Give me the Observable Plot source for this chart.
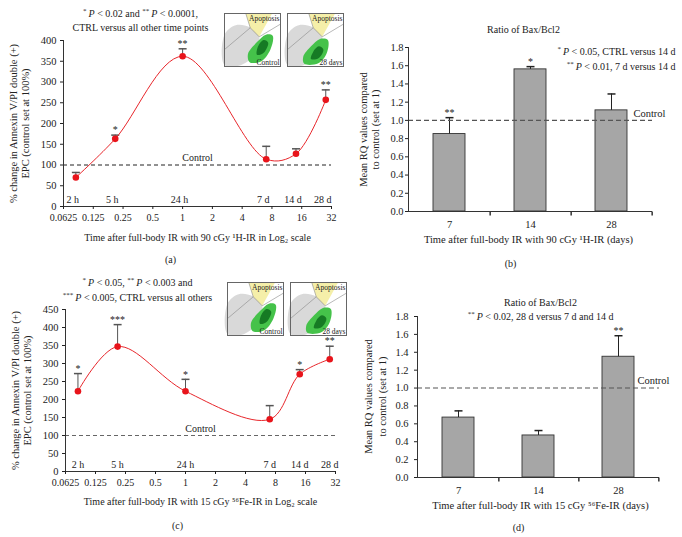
<!DOCTYPE html>
<html><head><meta charset="utf-8">
<script src="https://cdn.jsdelivr.net/npm/d3@7"></script>
<script src="https://cdn.jsdelivr.net/npm/@observablehq/plot@0.6"></script>
<style>
body{margin:0;background:#fff;}
#fig{position:relative;width:682px;height:537px;overflow:hidden;font-family:"Liberation Serif","DejaVu Serif",serif;}
#fig > svg, #fig > figure, #fig > div {position:absolute;margin:0;}
</style></head><body><div id="fig"></div>
<script>
// ---------- data ----------
const timeLabels = ["2 h", "5 h", "24 h", "7 d", "14 d", "28 d"];
const timeDays = [2 / 24, 5 / 24, 1, 7, 14, 28];
const logTicks = [0.0625, 0.125, 0.25, 0.5, 1, 2, 4, 8, 16, 32];
const logTickLabels = ["0.0625", "0.125", "0.25", "0.5", "1", "2", "4", "8", "16", "32"];
const yTicksA = [0, 50, 100, 150, 200, 250, 300, 350, 400];
const yTicksC = [0, 50, 100, 150, 200, 250, 300, 350, 400, 450];
const protonMean = [70, 163, 362, 114, 127, 257];
const protonErr = [12, 9, 18, 31, 12, 24];
const protonStars = ["", "*", "**", "", "", "**"];
const ironMean = [223, 347, 223, 145, 270, 312];
const ironErr = [49, 61, 33, 38, 13, 36];
const ironStars = ["*", "***", "*", "", "*", "**"];
const barDays = ["7", "14", "28"];
const barTicks = [0, 0.2, 0.4, 0.6, 0.8, 1.0, 1.2, 1.4, 1.6, 1.8];
const barTickLabels = ["0.0", "0.2", "0.4", "0.6", "0.8", "1.0", "1.2", "1.4", "1.6", "1.8"];
const protonRatio = [0.85, 1.56, 1.11];
const protonRatioErr = [0.18, 0.03, 0.18];
const protonRatioStars = ["**", "*", ""];
const ironRatio = [0.67, 0.47, 1.35];
const ironRatioErr = [0.075, 0.055, 0.235];
const ironRatioStars = ["", "", "**"];
const controlLevelPct = 100;
const controlLevelRQ = 1.0;

// inset (flow cytometry thumbnail) outlines, unit square
const gateCloud = [[0, 0.03], [0, 0.6], [0.2, 0.78], [0.45, 0.74], [0.62, 0.55], [0.55, 0.25], [0.3, 0.03]];
const gateYellow = [[0.38, 1], [0.85, 1], [0.62, 0.56], [0.46, 0.73]];
const gateGreen = [[0.45, 0.08], [0.66, 0.1], [0.82, 0.32], [0.86, 0.58], [0.74, 0.6], [0.58, 0.46], [0.42, 0.24]];
const gateGreenCore = [[0.58, 0.22], [0.7, 0.26], [0.78, 0.45], [0.7, 0.5], [0.6, 0.38]];
const gateGreen28 = [[0.3, 0.05], [0.55, 0.06], [0.7, 0.25], [0.72, 0.5], [0.58, 0.52], [0.42, 0.38], [0.28, 0.18]];
const gateGreenCore28 = [[0.42, 0.14], [0.56, 0.16], [0.64, 0.32], [0.56, 0.38], [0.46, 0.28]];
const gateLine1 = [[0, 0.32], [0.46, 0.73], [0.38, 1]];
const gateLine2 = [[0.46, 0.73], [0.62, 0.56], [1, 0.8]];

// ---------- helpers ----------
const FONT = "Liberation Serif";
const fig = document.getElementById("fig");
const cap = {draw(c) { c.moveTo(-4, 0); c.lineTo(4, 0); }};
const vtick = {draw(c) { c.moveTo(0, 0); c.lineTo(0, 4); }};

function at(P, s, px, py, o = {}) {
  return Plot.text([s], {text: d => d, frameAnchor: "top-left", dx: px - P.left - P.ml, dy: py - P.top - P.mt,
    textAnchor: "middle", lineAnchor: "middle", fontSize: 10, ...o});
}

function rich(svg) {
  svg.querySelectorAll("text").forEach(el => {
    const targets = el.querySelector("tspan") ? [...el.querySelectorAll("tspan")] : [el];
    targets.forEach(t => {
      const s = t.textContent;
      if (!/[\^_]/.test(s)) return;
      t.textContent = "";
      let shift = 0;
      s.split(/(\^[^\^]*\^|_[^_]*_)/).filter(p => p).forEach(p => {
        const ts = document.createElementNS("http://www.w3.org/2000/svg", "tspan");
        if (p[0] === "^") {
          ts.textContent = p.slice(1, -1);
          ts.setAttribute("font-size", "7");
          ts.setAttribute("dy", "-3.5");
          shift = 3.5;
        } else {
          if (p[0] === "_") { ts.textContent = p.slice(1, -1); ts.setAttribute("font-style", "italic"); }
          else ts.textContent = p;
          if (shift) { ts.setAttribute("dy", String(shift)); shift = 0; }
        }
        t.appendChild(ts);
      });
    });
  });
}

function place(node, P) {
  node.style.position = "absolute";
  node.style.left = P.left + "px";
  node.style.top = P.top + "px";
  node.style.overflow = "visible";
  rich(node);
  fig.appendChild(node);
}

function linePanel(P, means, errs, stars, yTicks, T) {
  const data = timeDays.map((t, i) => ({t, v: means[i], hi: means[i] + errs[i], star: stars[i], label: timeLabels[i]}));
  const node = Plot.plot({
    width: P.w, height: P.h, marginLeft: P.ml, marginRight: P.mr, marginTop: P.mt, marginBottom: P.mb,
    style: {fontFamily: FONT, fontSize: "10px", color: "#222", background: "transparent", overflow: "visible"},
    x: {type: "log", base: 2, domain: [0.0625, 32]},
    y: {domain: [0, yTicks[yTicks.length - 1]]},
    marks: [
      Plot.ruleY([controlLevelPct], {stroke: T.dashColor, strokeDasharray: "4,3", strokeWidth: 1}),
      Plot.ruleX([0.0625], {stroke: "#333"}),
      Plot.ruleY([0], {stroke: "#333"}),
      Plot.axisX(logTicks, {tickFormat: d => logTickLabels[logTicks.indexOf(d)], tickSize: 3, tickPadding: 4, label: null, fontSize: 10}),
      Plot.axisY(yTicks, {tickSize: 3, tickPadding: 4, label: null, fontSize: 10.5}),
      Plot.ruleX(data, {x: "t", y1: "v", y2: "hi", stroke: "#555"}),
      Plot.dot(data, {x: "t", y: "hi", symbol: cap, stroke: "#555", fill: "none"}),
      Plot.line(data, {x: "t", y: "v", curve: "catmull-rom", stroke: "#e8262b", strokeWidth: 1}),
      Plot.dot(data, {x: "t", y: "v", r: 3.3, fill: "#e8141b", stroke: "none"}),
      Plot.text(data, {x: "t", y: "hi", text: "star", dy: -5, fontSize: 10}),
      Plot.text(data, {x: "t", y: 0, text: "label", dy: -7, dx: T.labelDx, fontSize: 10}),
      Plot.text([{v: controlLevelPct, s: "Control"}], {y: "v", text: "s", dy: -7, dx: T.ctrlDx, fontSize: 10}),
      at(P, T.title1, T.tx, T.ty1),
      at(P, T.title2, T.tx, T.ty2),
      at(P, T.ylab1, T.yl1, T.yly, {rotate: -90, fontSize: 10.5}),
      at(P, T.ylab2, T.yl2, T.yly, {rotate: -90, fontSize: 10.5}),
      at(P, T.xlab, T.xx, T.xy),
      at(P, T.letter, T.lx, T.ly)
    ]
  });
  place(node, P);
}

function barPanel(P, vals, errs, stars, T) {
  const data = barDays.map((d, i) => ({d, v: vals[i], hi: vals[i] + errs[i], star: stars[i]}));
  const step = (P.w - P.ml - P.mr) / barDays.length;
  const node = Plot.plot({
    width: P.w, height: P.h, marginLeft: P.ml, marginRight: P.mr, marginTop: P.mt, marginBottom: P.mb,
    style: {fontFamily: FONT, fontSize: "10px", color: "#222", background: "transparent", overflow: "visible"},
    x: {type: "band", domain: barDays, paddingInner: 0.6, paddingOuter: 0.3},
    y: {domain: [0, 1.8]},
    marks: [
      Plot.barY(data, {x: "d", y: "v", fill: "#a6a6a6", stroke: "#333", strokeWidth: 0.9}),
      Plot.ruleX(data, {x: "d", y1: "v", y2: "hi", stroke: "#222"}),
      Plot.dot(data, {x: "d", y: "hi", symbol: cap, stroke: "#222", fill: "none"}),
      Plot.ruleY([controlLevelRQ], {stroke: "#555", strokeDasharray: "5,3", strokeWidth: 1.1}),
      Plot.frame({anchor: "left", stroke: "#333"}),
      Plot.ruleY([0], {stroke: "#333"}),
      Plot.dot(barDays, {x: d => d, y: 0, symbol: vtick, stroke: "#333", fill: "none", dx: step / 2}),
      Plot.axisX({tickSize: 0, tickPadding: 9, label: null, fontSize: 10.5}),
      Plot.axisY(barTicks, {tickFormat: d => barTickLabels[barTicks.indexOf(d)], tickSize: 3, tickPadding: T.tickPad, label: null, fontSize: 10.5}),
      Plot.text(data, {x: "d", y: "hi", text: "star", dy: -5, fontSize: 10}),
      Plot.text([{v: controlLevelRQ, s: "Control"}], {y: "v", text: "s", frameAnchor: "right", textAnchor: "middle", dx: T.ctrlDx, dy: -7, fontSize: 10.5}),
      ...T.titles.map(([s, x, y, a]) => at(P, s, x, y, {textAnchor: a})),
      at(P, "Mean RQ values compared", T.yl1, T.yly, {rotate: -90, fontSize: 10.5}),
      at(P, "to control (set at 1)", T.yl2, T.yly, {rotate: -90, fontSize: 10.5}),
      at(P, T.xlab, T.xx, T.xy, {fontSize: 10.5}),
      at(P, T.letter, T.lx, T.ly)
    ]
  });
  place(node, P);
}

function inset(left, top, label, green, core) {
  const P = {left, top};
  const poly = (pts, o) => Plot.line(pts, {x: d => d[0], y: d => d[1], ...o});
  const node = Plot.plot({
    width: 56, height: 53, margin: 0,
    style: {fontFamily: FONT, background: "#fff", overflow: "visible"},
    x: {domain: [0, 1], axis: null}, y: {domain: [0, 1], axis: null},
    marks: [
      poly(gateCloud, {fill: "#cfcfcf", fillOpacity: 0.8, stroke: "none", curve: "catmull-rom-closed"}),
      poly(gateYellow, {fill: "#f3ec9a", fillOpacity: 0.85, stroke: "none"}),
      poly(green, {fill: "#45c24a", stroke: "none", curve: "catmull-rom-closed"}),
      poly(core, {fill: "#167a24", stroke: "none", curve: "catmull-rom-closed"}),
      poly(gateLine1, {stroke: "#888", strokeWidth: 0.6}),
      poly(gateLine2, {stroke: "#888", strokeWidth: 0.6}),
      Plot.text(["Apoptosis"], {text: d => d, frameAnchor: "top-right", dx: -1, dy: 2, fontSize: 7.5, fill: "#222"}),
      Plot.text([label], {text: d => d, frameAnchor: "bottom-right", dx: -1, dy: -2, fontSize: 7.5, fill: "#222"}),
      Plot.frame({stroke: "#666"})
    ]
  });
  place(node, P);
}

// ---------- panels ----------
const A = {left: 0, top: 0, w: 341, h: 270, ml: 63, mr: 10, mt: 40, mb: 64};
const B = {left: 341, top: 0, w: 341, h: 270, ml: 67, mr: 30, mt: 47, mb: 59};
const C = {left: 0, top: 270, w: 341, h: 267, ml: 65, mr: 6, mt: 39, mb: 66};
const D = {left: 341, top: 270, w: 341, h: 267, ml: 76, mr: 23, mt: 46, mb: 60};

const ylab1 = "% change in Annexin V/PI double (+)";
const ylab2 = "EPC (control set at 100%)";

linePanel(A, protonMean, protonErr, protonStars, yTicksA, {
  dashColor: "#222", labelDx: -3, ctrlDx: 0,
  title1: "^*^\u2009_P_ < 0.02 and ^**^\u2009_P_ < 0.0001,", title2: "CTRL versus all other time points", tx: 140, ty1: 13, ty2: 27,
  ylab1, ylab2, yl1: 13, yl2: 25, yly: 123,
  xlab: "Time after full-body IR with 90 cGy ¹H-IR in Log₂ scale", xx: 197, xy: 237,
  letter: "(a)", lx: 170, ly: 259
});

barPanel(B, protonRatio, protonRatioErr, protonRatioStars, {
  tickPad: 2, ctrlDx: -3,
  titles: [["Ratio of Bax/Bcl2", 523, 29, "middle"],
           ["^*^\u2009_P_ < 0.05, CTRL versus 14 d", 675, 51, "end"],
           ["^**^\u2009_P_ < 0.01, 7 d versus 14 d", 675, 66, "end"]],
  yl1: 363, yl2: 375, yly: 129,
  xlab: "Time after full-body IR with 90 cGy ¹H-IR (days)", xx: 528, xy: 239,
  letter: "(b)", lx: 510, ly: 263
});

linePanel(C, ironMean, ironErr, ironStars, yTicksC, {
  dashColor: "#666", labelDx: 0, ctrlDx: 0,
  title1: "^*^\u2009_P_ < 0.05, ^**^\u2009_P_ < 0.003 and", title2: "^***^\u2009_P_ < 0.005, CTRL versus all others", tx: 137, ty1: 282, ty2: 297,
  ylab1, ylab2, yl1: 15, yl2: 27, yly: 390,
  xlab: "Time after full-body IR with 15 cGy ⁵⁶Fe-IR in Log₂ scale", xx: 200, xy: 501,
  letter: "(c)", lx: 177, ly: 525
});

barPanel(D, ironRatio, ironRatioErr, ironRatioStars, {
  tickPad: 6, ctrlDx: -6,
  titles: [["Ratio of Bax/Bcl2", 540, 302, "middle"],
           ["^**^\u2009_P_ < 0.02, 28 d versus 7 d and 14 d", 540, 316, "middle"]],
  yl1: 368, yl2: 382, yly: 396,
  xlab: "Time after full-body IR with 15 cGy ⁵⁶Fe-IR (days)", xx: 540, xy: 505,
  letter: "(d)", lx: 518, ly: 527
});

inset(224, 13, "Control", gateGreen, gateGreenCore);
inset(287, 13, "28 days", gateGreen28, gateGreenCore28);
inset(227, 282, "Control", gateGreen, gateGreenCore);
inset(290, 282, "28 days", gateGreen28, gateGreenCore28);
</script></body></html>
